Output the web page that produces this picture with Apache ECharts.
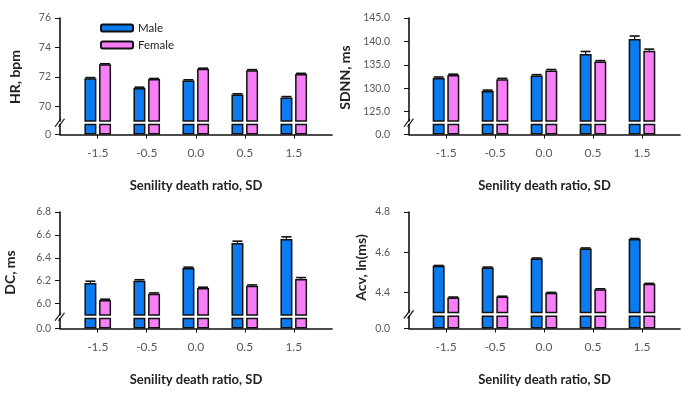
<!DOCTYPE html>
<html>
<head>
<meta charset="utf-8">
<script src="https://cdn.jsdelivr.net/npm/echarts@6/dist/echarts.min.js"></script>
<style>
  html, body { margin: 0; padding: 0; background: #fff; }
  #chart { width: 681px; height: 393px; }
</style>
</head>
<body>
<div id="chart"></div>
<script>
// x categories (senility death ratio, SD)
const categories = ['-1.5', '-0.5', '0.0', '0.5', '1.5'];

// HR, bpm
const hrMale = [71.9, 71.25, 71.75, 70.8, 70.6];
const hrFemale = [72.85, 71.85, 72.55, 72.45, 72.2];
const hrMaleErr = [0.05, 0.05, 0.05, 0.05, 0.06];
const hrFemaleErr = [0.04, 0.04, 0.04, 0.04, 0.04];
const hrTicks = [70, 72, 74, 76];

// SDNN, ms
const sdnnMale = [132.2, 129.4, 132.7, 137.3, 140.5];
const sdnnFemale = [132.8, 131.9, 133.8, 135.7, 138.0];
const sdnnMaleErr = [0.2, 0.2, 0.2, 0.55, 0.65];
const sdnnFemaleErr = [0.2, 0.2, 0.2, 0.2, 0.35];
const sdnnTicks = [125, 130, 135, 140, 145];

// DC, ms
const dcMale = [6.18, 6.2, 6.31, 6.53, 6.565];
const dcFemale = [6.03, 6.085, 6.135, 6.155, 6.215];
const dcMaleErr = [0.015, 0.008, 0.008, 0.015, 0.018];
const dcFemaleErr = [0.008, 0.008, 0.008, 0.008, 0.012];
const dcTicks = [6.0, 6.2, 6.4, 6.6, 6.8];

// Acv, ln(ms)
const acvMale = [4.532, 4.524, 4.569, 4.619, 4.666];
const acvFemale = [4.375, 4.379, 4.398, 4.416, 4.443];
const acvMaleErr = [0.002, 0.002, 0.002, 0.002, 0.002];
const acvFemaleErr = [0.002, 0.002, 0.002, 0.002, 0.002];
const acvTicks = [4.4, 4.6, 4.8];

const panels = [
  { name: 'HR, bpm', male: hrMale, female: hrFemale, maleErr: hrMaleErr, femaleErr: hrFemaleErr, ticks: hrTicks, min: 69, max: 76, digits: 0, zero: '0' },
  { name: 'SDNN, ms', male: sdnnMale, female: sdnnFemale, maleErr: sdnnMaleErr, femaleErr: sdnnFemaleErr, ticks: sdnnTicks, min: 123, max: 145, digits: 1, zero: '0.0' },
  { name: 'DC, ms', male: dcMale, female: dcFemale, maleErr: dcMaleErr, femaleErr: dcFemaleErr, ticks: dcTicks, min: 5.9, max: 6.8, digits: 1, zero: '0.0' },
  { name: 'Acv, ln(ms)', male: acvMale, female: acvFemale, maleErr: acvMaleErr, femaleErr: acvFemaleErr, ticks: acvTicks, min: 4.3, max: 4.8, digits: 1, zero: '0.0' }
];

// layout of each panel: upper (broken) grid + thin lower grid near zero
const layouts = [
  { left: 60, width: 272, top: 18, height: 103, lowTop: 124.5, lowHeight: 10, xMin: -0.77, xMax: 4.78, labelMargin: 9, nameX: 15, nameY: 77 },
  { left: 409, width: 271, top: 18, height: 103, lowTop: 124.5, lowHeight: 10, xMin: -0.755, xMax: 4.776, labelMargin: 19, nameX: 345, nameY: 77.5 },
  { left: 60, width: 272, top: 212, height: 103, lowTop: 318.5, lowHeight: 10, xMin: -0.77, xMax: 4.78, labelMargin: 9, nameX: 10, nameY: 272.5 },
  { left: 409, width: 271, top: 212, height: 100.5, lowTop: 316.3, lowHeight: 12.2, xMin: -0.755, xMax: 4.776, labelMargin: 19, nameX: 361.7, nameY: 267.5 }
];

const MALE = '#0b7bef';
const FEMALE = '#f87ef8';
const EDGE = '#111';
const FONT = 'Lato, "Open Sans", sans-serif';
const BAR_W = 12;
const BAR_GAP = 0.22;
const SHIFT = BAR_W / 2 + BAR_W * BAR_GAP / 2;

const chart = echarts.init(document.getElementById('chart'));

const grids = [], xAxes = [], yAxes = [], series = [], graphics = [];

function axisLine() {
  return { show: true, onZero: false, lineStyle: { color: EDGE, width: 1.6 } };
}
function axisTick(values, len) {
  return { show: true, customValues: values, length: len, lineStyle: { color: EDGE, width: 1 } };
}

function barSeries(name, values, color, idx) {
  return {
    type: 'bar', name: name, xAxisIndex: idx, yAxisIndex: idx,
    data: values.map((v, i) => [i, v]),
    barWidth: BAR_W, barGap: (BAR_GAP * 100) + '%',
    itemStyle: { color: color, borderColor: EDGE, borderWidth: 1.5 },
    emphasis: { disabled: true }
  };
}

function errSeries(values, errs, shift, idx) {
  return {
    type: 'custom', xAxisIndex: idx, yAxisIndex: idx, z: 5, silent: true,
    data: values.map((v, i) => [i, v, errs[i]]),
    renderItem: function (params, api) {
      const base = api.coord([api.value(0), api.value(1)]);
      const top = api.coord([api.value(0), api.value(1) + api.value(2)]);
      const cx = base[0] + shift;
      return {
        type: 'group',
        children: [
          { type: 'line', shape: { x1: cx, y1: base[1], x2: cx, y2: top[1] }, style: { stroke: EDGE, lineWidth: 1.2 } },
          { type: 'line', shape: { x1: cx - 5, y1: top[1], x2: cx + 5, y2: top[1] }, style: { stroke: EDGE, lineWidth: 1.6 } }
        ]
      };
    }
  };
}

panels.forEach((p, k) => {
  const L = layouts[k];
  const up = 2 * k, lo = 2 * k + 1;
  grids.push({ left: L.left, top: L.top, width: L.width, height: L.height, outerBoundsMode: 'none' });
  grids.push({ left: L.left, top: L.lowTop, width: L.width, height: L.lowHeight, outerBoundsMode: 'none' });

  xAxes.push({
    gridIndex: up, type: 'value', min: L.xMin, max: L.xMax,
    axisLine: { show: false, onZero: false }, axisTick: { show: false }, axisLabel: { show: false }, splitLine: { show: false }
  });
  xAxes.push({
    gridIndex: lo, type: 'value', min: L.xMin, max: L.xMax,
    axisLine: axisLine(),
    axisTick: axisTick([0, 1, 2, 3, 4], 4),
    axisLabel: { customValues: [0, 1, 2, 3, 4], formatter: v => categories[Math.round(v)], margin: 13, fontSize: 12, color: '#595959', fontFamily: FONT },
    splitLine: { show: false },
    name: 'Senility death ratio, SD', nameLocation: 'middle', nameGap: 45,
    nameTextStyle: { fontSize: 13, fontWeight: 'bold', color: '#222', fontFamily: FONT }
  });

  yAxes.push({
    gridIndex: up, type: 'value', min: p.min, max: p.max,
    axisLine: axisLine(),
    axisTick: axisTick(p.ticks, 5),
    axisLabel: { customValues: p.ticks, formatter: v => v.toFixed(p.digits), margin: L.labelMargin, fontSize: 10.5, color: '#595959', fontFamily: FONT },
    splitLine: { show: false }
  });
  yAxes.push({
    gridIndex: lo, type: 'value', min: 0, max: 1,
    axisLine: axisLine(),
    axisTick: axisTick([0], 5),
    axisLabel: { customValues: [0], formatter: () => p.zero, margin: L.labelMargin, fontSize: 10.5, color: '#595959', fontFamily: FONT },
    splitLine: { show: false }
  });

  series.push(barSeries('Male', p.male, MALE, up));
  series.push(barSeries('Female', p.female, FEMALE, up));
  series.push(barSeries('Male', p.male, MALE, lo));
  series.push(barSeries('Female', p.female, FEMALE, lo));
  series.push(errSeries(p.male, p.maleErr, -SHIFT, up));
  series.push(errSeries(p.female, p.femaleErr, SHIFT, up));

  // y axis title
  graphics.push({
    type: 'text', x: L.nameX, y: L.nameY, rotation: Math.PI / 2,
    style: { text: p.name, font: 'bold 14px ' + FONT, fill: '#222', align: 'center', verticalAlign: 'middle' }
  });
  // break marks on the y axis
  const cy = (L.top + L.height + L.lowTop) / 2;
  [-2, 1.5].forEach(dx => {
    graphics.push({
      type: 'line', silent: true,
      shape: { x1: L.left + dx - 3, y1: cy + 4, x2: L.left + dx + 3, y2: cy - 4 },
      style: { stroke: EDGE, lineWidth: 1.2 }
    });
  });
});

const option = {
  animation: false,
  backgroundColor: '#fff',
  textStyle: { fontFamily: FONT },
  legend: {
    data: ['Male', 'Female'],
    orient: 'vertical', left: 95, top: 17,
    itemWidth: 32, itemHeight: 7, itemGap: 5,
    textStyle: { fontSize: 11.5, color: '#222', fontFamily: FONT }
  },
  grid: grids,
  xAxis: xAxes,
  yAxis: yAxes,
  series: series,
  graphic: graphics
};

chart.setOption(option);
</script>
</body>
</html>
